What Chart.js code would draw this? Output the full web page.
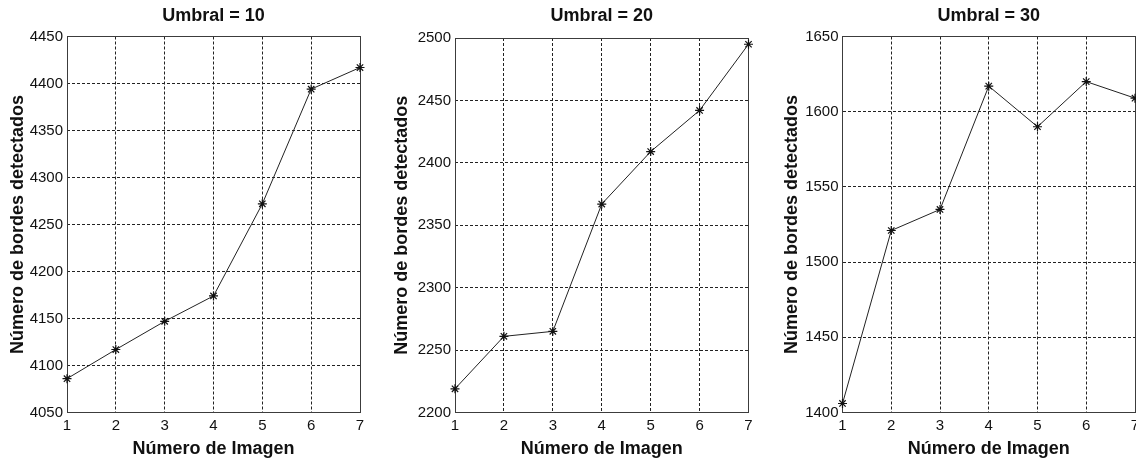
<!DOCTYPE html>
<html>
<head>
<meta charset="utf-8">
<script src="https://cdn.jsdelivr.net/npm/chart.js@4/dist/chart.umd.min.js"></script>
<style>
  html, body { margin: 0; padding: 0; background: #fff; overflow: hidden; width: 1136px; height: 461px; }
  canvas { position: absolute; top: 0; }
</style>
</head>
<body>
<canvas id="umbral10" width="380" height="461" style="left:0px"></canvas>
<canvas id="umbral20" width="384" height="461" style="left:384px"></canvas>
<canvas id="umbral30" width="376" height="461" style="left:774px"></canvas>
<script>
// Image index on the x axis (shared by the three panels)
const imagenes = [1, 2, 3, 4, 5, 6, 7];

// Detected edge counts per image, one series per threshold
const bordesUmbral10 = [4086, 4117, 4147, 4174, 4272, 4394, 4417];
const bordesUmbral20 = [2219, 2261, 2265, 2367, 2409, 2442, 2495];
const bordesUmbral30 = [1406, 1521, 1535, 1617, 1590, 1620, 1609];

// Panel titles and y-axis ranges
const titulos = ['Umbral = 10', 'Umbral = 20', 'Umbral = 30'];
const limitesY10 = [4050, 4450];
const limitesY20 = [2200, 2500];
const limitesY30 = [1400, 1650];
const pasoY = 50;

const etiquetaX = 'Número de Imagen';
const etiquetaY = 'Número de bordes detectados';

const FUENTE = "'Liberation Sans', Arial, Helvetica, sans-serif";
const TINTA = '#111';

// Solid frame around the plotting area (box on), drawn under the data
const marcoEjes = {
  id: 'marcoEjes',
  beforeDatasetsDraw(chart) {
    const { ctx, chartArea: a } = chart;
    const al = (p) => Math.round(p - 0.5) + 0.5;
    ctx.save();
    ctx.setLineDash([]);
    ctx.lineWidth = 1;
    ctx.strokeStyle = '#3c3c3c';
    ctx.strokeRect(al(a.left), al(a.top), al(a.right) - al(a.left), al(a.bottom) - al(a.top));
    ctx.restore();
  }
};

// Plain integer tick text, no thousands separator
const textoTick = (v) => String(v);

function panel(idCanvas, serie, limites, titulo, anchoEjeY, margenDerecho, arriba) {
  const tituloArriba = 5;
  const altoTitulo = 18 * 1.2;
  const altoEjeX = 461 - 412.5;
  new Chart(document.getElementById(idCanvas), {
    type: 'line',
    data: {
      labels: imagenes,
      datasets: [{
        data: imagenes.map((x, i) => ({ x: x, y: serie[i] })),
        borderColor: '#222',
        borderWidth: 1,
        pointStyle: 'star',
        pointRadius: 4.5,
        pointBorderColor: TINTA,
        pointBorderWidth: 1.2,
        pointBackgroundColor: TINTA,
        tension: 0,
        clip: false
      }]
    },
    options: {
      responsive: false,
      animation: false,
      events: [],
      layout: { padding: { left: 0, right: margenDerecho, top: 0, bottom: 0 } },
      plugins: {
        legend: { display: false },
        tooltip: { enabled: false },
        title: {
          display: true,
          text: titulo,
          fullSize: false,
          color: TINTA,
          font: { family: FUENTE, size: 18, weight: 'bold', lineHeight: 1.2 },
          padding: { top: tituloArriba, bottom: arriba - tituloArriba - altoTitulo }
        }
      },
      scales: {
        x: {
          type: 'linear',
          min: imagenes[0],
          max: imagenes[imagenes.length - 1],
          offset: false,
          afterFit(scale) { scale.height = altoEjeX; },
          ticks: {
            stepSize: 1,
            autoSkip: false,
            padding: 4,
            color: TINTA,
            font: { family: FUENTE, size: 15 },
            callback: textoTick
          },
          grid: { color: '#222', lineWidth: 1, drawTicks: false },
          border: { display: false, dash: [3, 2] },
          title: {
            display: true,
            text: etiquetaX,
            color: TINTA,
            font: { family: FUENTE, size: 18, weight: 'bold', lineHeight: 1.2 },
            padding: { top: 0, bottom: 1 }
          }
        },
        y: {
          type: 'linear',
          min: limites[0],
          max: limites[1],
          afterFit(scale) { scale.width = anchoEjeY; },
          ticks: {
            stepSize: pasoY,
            padding: 4,
            color: TINTA,
            font: { family: FUENTE, size: 15 },
            callback: textoTick
          },
          grid: { color: '#222', lineWidth: 1, drawTicks: false },
          border: { display: false, dash: [3, 2] },
          title: {
            display: true,
            text: etiquetaY,
            color: TINTA,
            font: { family: FUENTE, size: 18, weight: 'bold', lineHeight: 1.2 },
            padding: { top: 7, bottom: 0 }
          }
        }
      }
    },
    plugins: [marcoEjes]
  });
}

panel('umbral10', bordesUmbral10, limitesY10, titulos[0], 67, 20, 36.5);
panel('umbral20', bordesUmbral20, limitesY20, titulos[1], 71, 19.5, 38);
panel('umbral30', bordesUmbral30, limitesY30, titulos[2], 68.5, 15, 36.5);
</script>
</body>
</html>
